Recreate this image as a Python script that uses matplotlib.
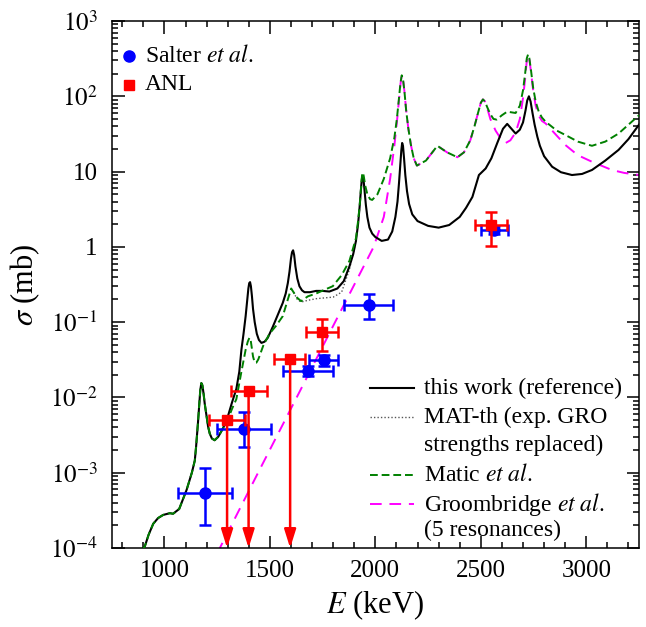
import matplotlib
matplotlib.use("Agg")
import math
import matplotlib.pyplot as plt
from matplotlib.ticker import FixedLocator, LogLocator, NullFormatter, FuncFormatter

plt.rcParams['font.family'] = ['Liberation Serif', 'DejaVu Serif']
plt.rcParams['mathtext.fontset'] = 'stix'

# ---- curves (E in keV, sigma in mb) ----
E_this = [895, 907, 925, 947, 970, 994, 1026, 1041, 1070, 1105, 1130, 1144, 1150, 1159, 1165,
          1170, 1175, 1180, 1186, 1191, 1199, 1207, 1215, 1225, 1238, 1255, 1278, 1300, 1320,
          1341, 1355, 1365, 1375, 1385, 1392, 1398, 1402, 1406, 1410, 1415, 1420, 1428, 1438,
          1448, 1460, 1475, 1490, 1514, 1540, 1561, 1575, 1585, 1593, 1600, 1605, 1610, 1615,
          1621, 1630, 1640, 1652, 1664, 1690, 1719, 1750, 1782, 1820, 1850, 1877, 1895, 1908,
          1918, 1925, 1931, 1936, 1940, 1944, 1949, 1955, 1962, 1972, 1985, 2000, 2030, 2060,
          2080, 2095, 2105, 2112, 2118, 2123, 2127, 2131, 2136, 2142, 2150, 2160, 2175, 2200,
          2250, 2300, 2350, 2400, 2430, 2460, 2491, 2523, 2550, 2578, 2605, 2625, 2645, 2665,
          2685, 2700, 2712, 2720, 2728, 2736, 2745, 2755, 2768, 2780, 2800, 2838, 2880, 2932,
          2980, 3027, 3090, 3153, 3200, 3250]
sig_this = [9.5e-5, 1.05e-4, 1.5e-4, 2.1e-4, 2.5e-4, 2.75e-4, 2.9e-4, 2.85e-4, 3.3e-4, 5.9e-4,
            1.0e-3, 1.45e-3, 2.2e-3, 4.6e-3, 8.0e-3, 1.25e-2, 1.55e-2, 1.45e-2, 1.1e-2, 8.3e-3,
            5.8e-3, 4.1e-3, 3.3e-3, 2.85e-3, 2.7e-3, 3.0e-3, 3.9e-3, 5.5e-3, 8.5e-3, 1.3e-2,
            2.2e-2, 4.3e-2, 0.07, 0.12, 0.19, 0.28, 0.33, 0.34, 0.3, 0.22, 0.15, 0.1, 0.07,
            0.058, 0.053, 0.055, 0.062, 0.087, 0.13, 0.18, 0.24, 0.33, 0.47, 0.7, 0.85, 0.9,
            0.78, 0.55, 0.38, 0.3, 0.265, 0.25, 0.25, 0.26, 0.26, 0.255, 0.28, 0.35, 0.55, 0.8,
            1.2, 2.0, 3.3, 5.5, 8.0, 8.7, 7.8, 5.5, 3.6, 2.5, 1.8, 1.5, 1.35, 1.2, 1.25, 1.6,
            2.5, 4.0, 7.0, 12, 19, 24, 22, 15, 9, 5.5, 3.7, 2.7, 2.2, 1.9, 1.8, 1.95, 2.5, 3.3,
            4.6, 9.0, 11, 15, 24, 37, 43, 37, 32, 36, 45, 65, 88, 100, 85, 60, 42, 29, 22, 16,
            11.6, 9.8, 9.0, 9.3, 10.5, 14, 19.4, 27, 42]

E_matic = [895, 907, 925, 947, 970, 994, 1026, 1041, 1070, 1105, 1130, 1144, 1150, 1159, 1165,
           1170, 1175, 1180, 1186, 1191, 1199, 1207, 1215, 1225, 1238, 1255, 1278, 1300, 1320,
           1341, 1365, 1385, 1395, 1403, 1408, 1413, 1420, 1428, 1436, 1445, 1470, 1498, 1530,
           1561, 1585, 1601, 1612, 1630, 1648, 1680, 1719, 1760, 1798, 1840, 1877, 1908, 1918,
           1926, 1932, 1937, 1941, 1945, 1952, 1962, 1975, 1985, 2010, 2040, 2070, 2090, 2102,
           2112, 2119, 2125, 2131, 2138, 2146, 2156, 2168, 2182, 2197, 2240, 2294, 2340, 2389,
           2420, 2450, 2470, 2488, 2500, 2510, 2520, 2530, 2545, 2560, 2575, 2600, 2625, 2665,
           2685, 2700, 2710, 2718, 2724, 2730, 2738, 2748, 2760, 2775, 2790, 2807, 2860, 2901,
           2960, 3027, 3090, 3153, 3200, 3250]
sig_matic = [9.5e-5, 1.05e-4, 1.5e-4, 2.1e-4, 2.5e-4, 2.75e-4, 2.9e-4, 2.85e-4, 3.3e-4, 5.9e-4,
             1.0e-3, 1.45e-3, 2.2e-3, 4.6e-3, 8.0e-3, 1.25e-2, 1.55e-2, 1.45e-2, 1.1e-2, 8.3e-3,
             5.8e-3, 4.1e-3, 3.3e-3, 2.85e-3, 2.7e-3, 3.0e-3, 3.9e-3, 5.0e-3, 7.0e-3, 9.5e-3,
             2.2e-2, 4.3e-2, 0.055, 0.062, 0.06, 0.048, 0.035, 0.029, 0.029, 0.032, 0.05, 0.07,
             0.09, 0.12, 0.2, 0.28, 0.25, 0.21, 0.19, 0.22, 0.24, 0.27, 0.3, 0.42, 0.65, 1.3,
             2.2, 3.6, 6.0, 9.0, 9.7, 8.7, 6.5, 5.0, 4.3, 4.2, 5.0, 8.0, 15, 28, 50, 95, 150,
             190, 170, 115, 65, 38, 23, 15, 12, 14, 22, 18, 15.5, 18, 26, 40, 62, 82, 91, 85,
             72, 58, 50, 49, 56, 62.5, 60, 75, 120, 200, 320, 360, 320, 220, 130, 85, 62, 52,
             46, 35, 30.6, 25, 22, 25, 32, 42, 56]

E_mat = [1612, 1630, 1648, 1680, 1720, 1760, 1800, 1840, 1877, 1908]
sig_mat = [0.25, 0.2, 0.185, 0.195, 0.205, 0.21, 0.215, 0.25, 0.5, 1.2]

E_groom = [1250, 1444, 1627, 1809, 1992, 2040, 2070, 2090, 2102, 2112, 2119, 2125, 2131, 2138,
           2146, 2156, 2168, 2182, 2197, 2240, 2294, 2340, 2389, 2420, 2450, 2470, 2488, 2500,
           2510, 2520, 2530, 2545, 2570, 2600, 2618, 2640, 2665, 2685, 2700, 2710, 2718, 2724,
           2730, 2738, 2748, 2760, 2775, 2790, 2807, 2860, 2901, 2960, 3027, 3121, 3180, 3250]
sig_groom = [8.5e-5, 1e-3, 1e-2, 0.1, 1.0, 2.5, 8, 22, 45, 90, 145, 190, 170, 115, 65, 38, 23,
             15, 12, 14, 22, 18, 15.5, 18, 26, 40, 62, 82, 91, 85, 70, 50, 35, 26, 24, 26, 33,
             50, 95, 170, 300, 350, 310, 210, 120, 75, 55, 47, 43.6, 30, 22.5, 16.5, 13.5, 10.5,
             9.6, 9.0]

# ---- data points ----
E_salter = [1194, 1377, 1680, 1755, 1968, 2562]
sig_salter = [5.3e-4, 3.8e-3, 0.0227, 0.0315, 0.169, 1.68]
xlo_salter = [1062, 1249, 1561, 1684, 1853, 2502]
xhi_salter = [1320, 1506, 1798, 1821, 2085, 2630]
ylo_salter = [2.0e-4, 2.2e-3, 0.019, 0.026, 0.109, 1.5]
yhi_salter = [1.15e-3, 6.4e-3, 0.0265, 0.037, 0.237, 1.9]

E_anl = [1297, 1399, 1596, 1746, 2548]
sig_anl = [5.0e-3, 0.0123, 0.0324, 0.0748, 1.95]
xlo_anl = [1211, 1314, 1519, 1669, 2472]
xhi_anl = [1380, 1488, 1665, 1821, 2625]
ylo_anl = [None, None, None, 0.0419, 1.03]
yhi_anl = [None, None, None, 0.110, 2.88]

fig = plt.figure(figsize=(6.46, 6.27), dpi=100)
ax = fig.add_axes([0.1729, 0.126, 0.8163, 0.8405])

ax.plot(E_mat, sig_mat, color='#555555', lw=1.0, ls=(0, (1, 1.5)), zorder=2)
ax.plot(E_groom, sig_groom, color='#ff00ff', lw=1.4, ls=(0, (6, 4)), zorder=2)
ax.plot(E_this, sig_this, color='black', lw=1.5, zorder=3)
ax.plot(E_matic, sig_matic, color='#008000', lw=1.4, ls=(0, (4, 2)), zorder=4)

# Salter et al.
xerr = [[e - lo for e, lo in zip(E_salter, xlo_salter)], [hi - e for e, hi in zip(E_salter, xhi_salter)]]
yerr = [[s - lo for s, lo in zip(sig_salter, ylo_salter)], [hi - s for s, hi in zip(sig_salter, yhi_salter)]]
ax.errorbar(E_salter, sig_salter, xerr=xerr, yerr=yerr, fmt='o', color='#0000ff', ms=8,
            elinewidth=1.8, capsize=4, capthick=1.8, zorder=5)

# ANL: first three are upper limits, drawn as arrows to the axis
for e, s, lo, hi, ylo, yhi in zip(E_anl, sig_anl, xlo_anl, xhi_anl, ylo_anl, yhi_anl):
    if ylo is None:
        ax.errorbar([e], [s], xerr=[[e - lo], [hi - e]], fmt='s', color='#ff0000', ms=7.5,
                    elinewidth=1.8, capsize=4, capthick=1.8, zorder=6)
        ax.annotate('', xy=(e, 1e-4), xytext=(e, s),
                    arrowprops=dict(arrowstyle='-|>,head_width=0.22,head_length=0.7',
                                    color='#ff0000', lw=1.8, mutation_scale=16,
                                    shrinkA=0, shrinkB=0), zorder=6)
    else:
        ax.errorbar([e], [s], xerr=[[e - lo], [hi - e]], yerr=[[s - ylo], [yhi - s]], fmt='s',
                    color='#ff0000', ms=7.5, elinewidth=1.8, capsize=4, capthick=1.8, zorder=6)

ax.set_yscale('log')
ax.set_xlim(750, 3250)
ax.set_ylim(1e-4, 1e3)

ax.xaxis.set_major_locator(FixedLocator([1000, 1500, 2000, 2500, 3000]))
ax.xaxis.set_minor_locator(FixedLocator(list(range(800, 3300, 100))))
ax.yaxis.set_major_locator(LogLocator(base=10, numticks=20))
ax.yaxis.set_minor_locator(LogLocator(base=10, subs=range(2, 10), numticks=20))
ax.yaxis.set_minor_formatter(NullFormatter())

ylabels = {3: '$10^{3}$', 2: '$10^{2}$', 1: '10', 0: '1', -1: '$10^{-1}$', -2: '$10^{-2}$',
           -3: '$10^{-3}$', -4: '$10^{-4}$'}


def fmt_y(v, pos):
    k = int(round(math.log10(v)))
    return ylabels.get(k, '')


ax.yaxis.set_major_formatter(FuncFormatter(fmt_y))

ax.tick_params(which='both', direction='in', top=True, right=True, width=1.1, labelsize=18)
ax.tick_params(which='major', length=9)
ax.tick_params(which='minor', length=4.5)
ax.tick_params(axis='x', pad=9)
ax.tick_params(axis='y', pad=10)
for sp in ax.spines.values():
    sp.set_linewidth(1.1)

ax.set_xlabel('$E$ (keV)', fontsize=22, labelpad=4)
ax.set_ylabel(r'$\sigma$ (mb)', fontsize=22, labelpad=6)

# legend, upper left
ax.plot([0.0336], [0.934], 'o', color='#0000ff', ms=8, transform=ax.transAxes, clip_on=False)
ax.plot([0.0336], [0.879], 's', color='#ff0000', ms=7.5, transform=ax.transAxes, clip_on=False)
ax.text(0.0632, 0.934, r'Salter $\mathit{et\ al.}$', transform=ax.transAxes, fontsize=17,
        va='center', ha='left')
ax.text(0.0632, 0.879, 'ANL', transform=ax.transAxes, fontsize=17, va='center', ha='left')

# legend, lower right
lx0, lx1, tx = 0.490, 0.573, 0.592
ax.plot([lx0, lx1], [0.303, 0.303], color='black', lw=1.5, transform=ax.transAxes)
ax.text(tx, 0.303, 'this work (reference)', transform=ax.transAxes, fontsize=17, va='center')
ax.plot([lx0, lx1], [0.248, 0.248], color='#555555', lw=1.0, ls=(0, (1, 1.5)), transform=ax.transAxes)
ax.text(tx, 0.248, 'MAT-th (exp. GRO', transform=ax.transAxes, fontsize=17, va='center')
ax.text(tx, 0.195, 'strengths replaced)', transform=ax.transAxes, fontsize=17, va='center')
ax.plot([lx0, lx1], [0.138, 0.138], color='#008000', lw=1.4, ls=(0, (4, 2)), transform=ax.transAxes)
ax.text(tx, 0.138, r'Matic $\mathit{et\ al.}$', transform=ax.transAxes, fontsize=17, va='center')
ax.plot([lx0, lx1], [0.083, 0.083], color='#ff00ff', lw=1.4, ls=(0, (6, 4)), transform=ax.transAxes)
ax.text(tx, 0.083, r'Groombridge $\mathit{et\ al.}$', transform=ax.transAxes, fontsize=17, va='center')
ax.text(tx, 0.033, '(5 resonances)', transform=ax.transAxes, fontsize=17, va='center')

fig.savefig('out.png', dpi=100)
